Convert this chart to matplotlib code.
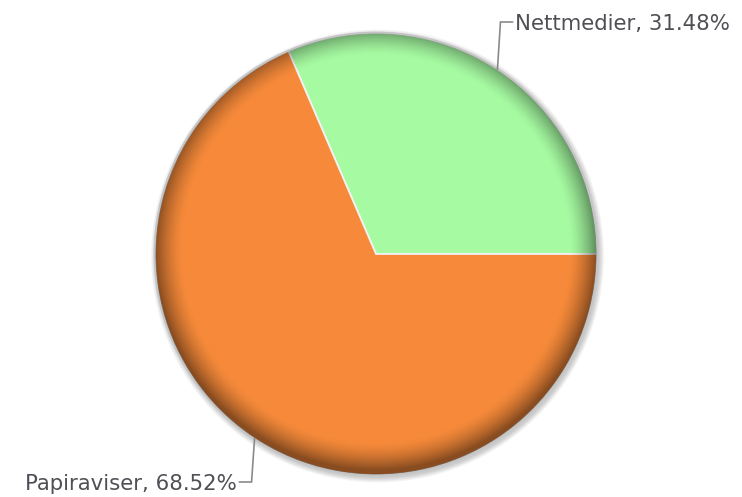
import numpy as np
import matplotlib.pyplot as plt
from matplotlib.patches import Circle

labels = ["Nettmedier", "Papiraviser"]
values = [31.48, 68.52]
colors = ["#a6fba2", "#f68a3a"]

W, H = 742, 497
fig = plt.figure(figsize=(7.42, 4.97), dpi=100)
ax = fig.add_axes([0, 0, 1, 1])
cx, cy, r = 376, 243, 221

# soft shadow
for i in range(6):
    ax.add_patch(Circle((cx + 1.5, cy - 2), r + 1 + i * 0.9, color="black",
                        alpha=0.035, lw=0, zorder=0))

wedges, _ = ax.pie(values, colors=colors, startangle=0, counterclock=True,
                   center=(cx, cy), radius=r, frame=True,
                   wedgeprops=dict(edgecolor="#f2f2f2", linewidth=1.3, zorder=2))

# bevel shading near the edge
yy, xx = np.mgrid[0:H, 0:W]
rho = np.hypot(xx + 0.5 - cx, (H - yy - 0.5) - (cy + 5))
band = np.clip((rho - (r - 28)) / 28.0, 0, 1) ** 1.5 * 0.45
img = np.zeros((H, W, 4))
img[..., 3] = band
im = ax.imshow(img, extent=(0, W, 0, H), origin="upper", zorder=3,
               interpolation="bilinear")
clip = Circle((cx, cy), r, transform=ax.transData)
im.set_clip_path(clip)

ax.add_patch(Circle((cx, cy), r + 0.5, fill=False, edgecolor="#c4c4c4",
                    lw=1.3, zorder=4))

# labels with leader lines
for w, lab, val in zip(wedges, labels, values):
    th = np.deg2rad((w.theta1 + w.theta2) / 2)
    x0, y0 = cx + r * np.cos(th), cy + r * np.sin(th)
    if np.sin(th) > 0:
        ye = cy + r + 11
    else:
        ye = cy - r - 7
    sgn = 1 if np.cos(th) > 0 else -1
    xe = x0 + sgn * 3
    xt = xe + sgn * 12
    ax.plot([x0, xe, xt], [y0, ye, ye], color="#8a8a8a", lw=1.2, zorder=5,
            solid_joinstyle="miter")
    ax.text(xt + sgn * 3, ye - 2, f"{lab}, {val:.2f}%",
            ha="left" if sgn > 0 else "right", va="center",
            fontsize=15.3, color="#4f4f55", family="DejaVu Sans", zorder=6)

ax.set_xlim(0, W)
ax.set_ylim(0, H)
ax.set_aspect("equal")
ax.axis("off")
fig.savefig("out.png", dpi=100)
